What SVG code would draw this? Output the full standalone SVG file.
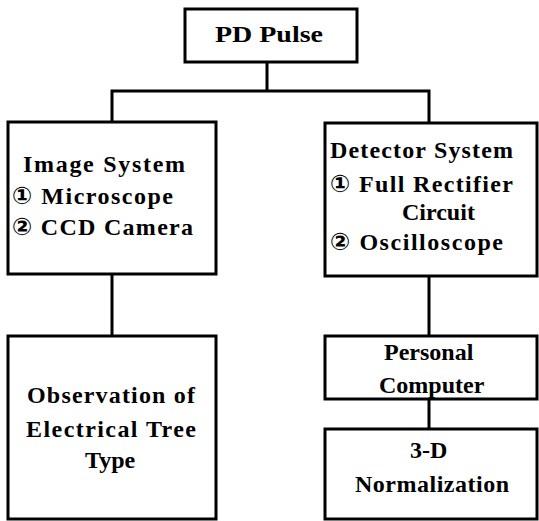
<svg xmlns="http://www.w3.org/2000/svg" width="539" height="521" viewBox="0 0 539 521">
<style>
.box{fill:#fff;stroke:#000;stroke-width:3}
.con{fill:none;stroke:#000;stroke-width:3}
.c{font-family:'DejaVu Sans','Noto Sans CJK KR',sans-serif}
</style>
<rect width="539" height="521" fill="#fff"/>
<g id="connectors">
<path class="con" d="M267 62V91"/>
<path class="con" d="M112 122V91H429V123"/>
<path class="con" d="M112 274V336"/>
<path class="con" d="M429 276V336"/>
<path class="con" d="M429 399V429"/>
</g>
<g font-family="Liberation Serif, DejaVu Serif, serif" font-weight="bold" font-size="24" fill="#000">
<g id="pd-pulse">
<rect class="box" x="185" y="9" width="172" height="53"/>
<text x="215" y="42" textLength="108" lengthAdjust="spacingAndGlyphs">PD Pulse</text>
</g>
<g id="image-system">
<rect class="box" x="8" y="122" width="208" height="152"/>
<text x="23" y="172" textLength="162" lengthAdjust="spacing">Image System</text>
<text x="12" y="204" textLength="161" lengthAdjust="spacing"><tspan class="c">①</tspan> Microscope</text>
<text x="12" y="235" textLength="181" lengthAdjust="spacing"><tspan class="c">②</tspan> CCD Camera</text>
</g>
<g id="detector-system">
<rect class="box" x="325" y="123" width="212" height="153"/>
<text x="330" y="158" textLength="183" lengthAdjust="spacing">Detector System</text>
<text x="330" y="192" textLength="183" lengthAdjust="spacing"><tspan class="c">①</tspan> Full Rectifier</text>
<text x="402" y="220">Circuit</text>
<text x="330" y="250" textLength="173" lengthAdjust="spacing"><tspan class="c">②</tspan> Oscilloscope</text>
</g>
<g id="observation">
<rect class="box" x="8" y="336" width="208" height="183"/>
<text x="27" y="403" textLength="168" lengthAdjust="spacing">Observation of</text>
<text x="26" y="437" textLength="170" lengthAdjust="spacing">Electrical Tree</text>
<text x="85" y="468">Type</text>
</g>
<g id="personal-computer">
<rect class="box" x="325" y="336" width="212" height="63"/>
<text x="384" y="360">Personal</text>
<text x="379" y="393">Computer</text>
</g>
<g id="normalization">
<rect class="box" x="325" y="429" width="212" height="90"/>
<text x="410" y="458">3-D</text>
<text x="355" y="492" textLength="154" lengthAdjust="spacing">Normalization</text>
</g>
</g>
</svg>
